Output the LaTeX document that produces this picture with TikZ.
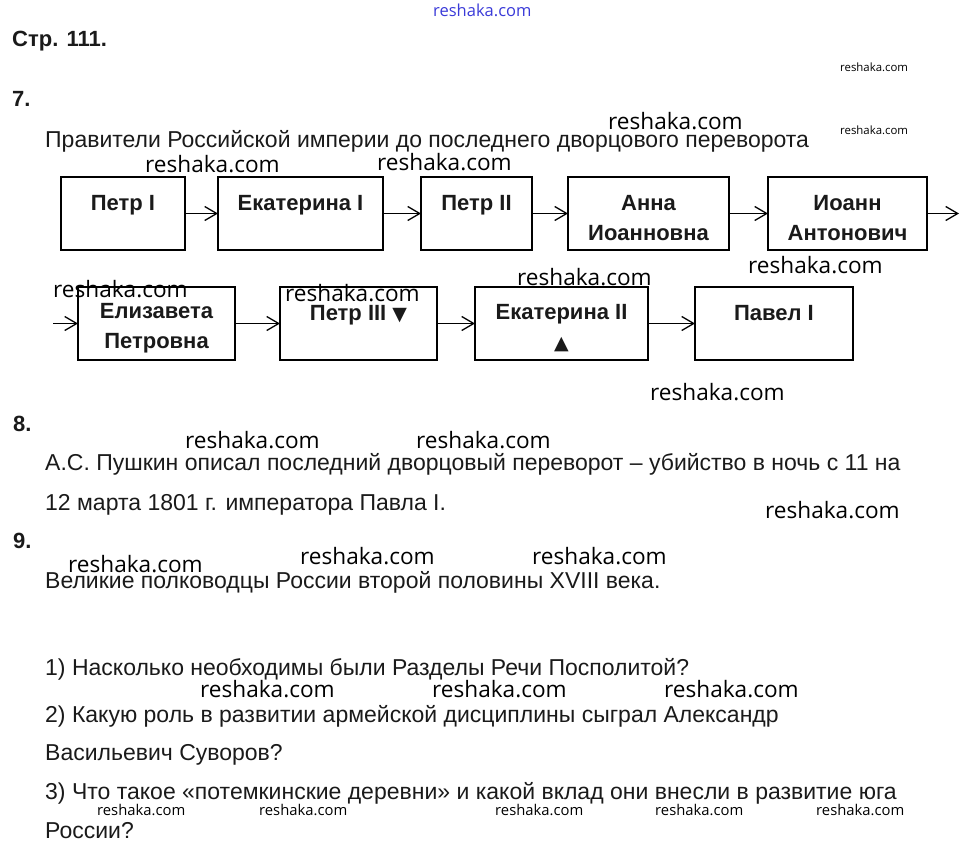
\documentclass[tikz,border=0pt]{standalone}
\usepackage{fontspec}
\setmainfont{Liberation Sans}
\newfontfamily\znakfont{Open Sans}
\newfontfamily\simvol{DejaVu Sans}
\usetikzlibrary{arrows.meta, positioning}
\definecolor{chernil}{HTML}{1A1A1A}
\definecolor{sinij}{HTML}{3A3AD8}
\tikzset{
  blok/.style={rectangle, draw=black, line width=2pt, fill=white, text=chernil,
    font=\fontsize{22}{30}\selectfont\bfseries, align=center,
    minimum height=73pt, inner sep=0pt, outer sep=0pt},
  odin/.style={text height=15pt, text depth=21pt},
  dva/.style={text height=54pt},
  strelka/.style={-{Straight Barb[length=12pt, width=14pt]}, line width=1.3pt},
  tekst/.style={anchor=base west, inner sep=0pt, text=chernil,
    font=\fontsize{23}{28}\selectfont},
  nomer/.style={tekst, font=\fontsize{22}{28}\selectfont\bfseries},
  znak/.style={anchor=base west, inner sep=0pt, text=black,
    font=\znakfont\fontsize{22.6}{26}\selectfont},
  znakmal/.style={znak, font=\znakfont\fontsize{14.8}{18}\selectfont},
  znakkroh/.style={znak, font=\znakfont\fontsize{11.4}{14}\selectfont}
}
\newcommand{\treug}[1]{{\simvol\fontsize{19}{19}\selectfont #1}}

\begin{document}
\begin{tikzpicture}[x=1pt, y=-1pt]
    \useasboundingbox (0,0) rectangle (968,859);

    % zadanie 7
    \node[nomer] (str) at (12,47) {Стр. 111.};
    \node[nomer] (n7) at (12,106) {7.};
    \node[tekst] (zagl) at (45,147) {Правители Российской империи до последнего дворцового переворота};

    % pervyj rjad
    \node[blok, odin, minimum width=124pt, anchor=north west] (petr1) at (61,177) {Петр I};
    \node[blok, odin, minimum width=165pt, right=33pt of petr1] (ekat1) {Екатерина I};
    \node[blok, odin, minimum width=111pt, right=38pt of ekat1] (petr2) {Петр II};
    \node[blok, dva, minimum width=161pt, right=36pt of petr2] (anna) {Анна\\Иоанновна};
    \node[blok, dva, minimum width=159pt, right=39pt of anna] (ioann) {Иоанн\\Антонович};
    \coordinate[right=32pt of ioann] (vyhod);

    % vtoroj rjad
    \node[blok, dva, minimum width=157pt, anchor=north west] (elizaveta) at (78,287) {Елизавета\\Петровна};
    \node[blok, odin, minimum width=157pt, right=45pt of elizaveta] (petr3) {Петр III \treug{▼}};
    \node[blok, dva, minimum width=173pt, right=38pt of petr3] (ekat2) {Екатерина II\\\treug{▲}};
    \node[blok, odin, minimum width=158pt, right=47pt of ekat2] (pavel) {Павел I};
    \coordinate[left=25pt of elizaveta] (vhod);

    \draw[strelka] (petr1) -- (ekat1);
    \draw[strelka] (ekat1) -- (petr2);
    \draw[strelka] (petr2) -- (anna);
    \draw[strelka] (anna) -- (ioann);
    \draw[strelka] (ioann) -- (vyhod);
    \draw[strelka] (vhod) -- (elizaveta);
    \draw[strelka] (elizaveta) -- (petr3);
    \draw[strelka] (petr3) -- (ekat2);
    \draw[strelka] (ekat2) -- (pavel);

    % zadanija 8 i 9
    \node[nomer] (n8) at (13,431) {8.};
    \node[tekst] (pushkin1) at (45,470) {А.С. Пушкин описал последний дворцовый переворот – убийство в ночь с 11 на};
    \node[tekst] (pushkin2) at (45,510) {12 марта 1801 г. императора Павла I.};
    \node[nomer] (n9) at (13,548) {9.};
    \node[tekst] (polk) at (45,588) {Великие полководцы России второй половины XVIII века.};
    \node[tekst] (vopr1) at (45,675) {1) Насколько необходимы были Разделы Речи Посполитой?};
    \node[tekst] (vopr2) at (45,722) {2) Какую роль в развитии армейской дисциплины сыграл Александр};
    \node[tekst] (vopr2b) at (45,760) {Васильевич Суворов?};
    \node[tekst] (vopr3) at (45,799) {3) Что такое «потемкинские деревни» и какой вклад они внесли в развитие юга};
    \node[tekst] (vopr3b) at (45,838) {России?};

    % vodjanye znaki
    \node[znak, text=sinij, font=\znakfont\fontsize{16.5}{18}\selectfont] (znakverh) at (433,17) {reshaka.com};
    \node[znakkroh] (znakkroh1) at (840,71) {reshaka.com};
    \node[znakkroh] (znakkroh2) at (840,134) {reshaka.com};
    \foreach \x/\y [count=\i] in {608/129, 145/172, 377/170, 53/297, 285/301, 517/285,
        748/273, 650/400, 185/448, 416/448, 765/518, 68/572, 300/564, 532/564,
        200/697, 432/697, 664/697}
      \node[znak] (znak\i) at (\x,\y) {reshaka.com};
    \foreach \x [count=\i] in {97, 259, 495, 655, 816}
      \node[znakmal] (znakmal\i) at (\x,815) {reshaka.com};
\end{tikzpicture}
\end{document}
